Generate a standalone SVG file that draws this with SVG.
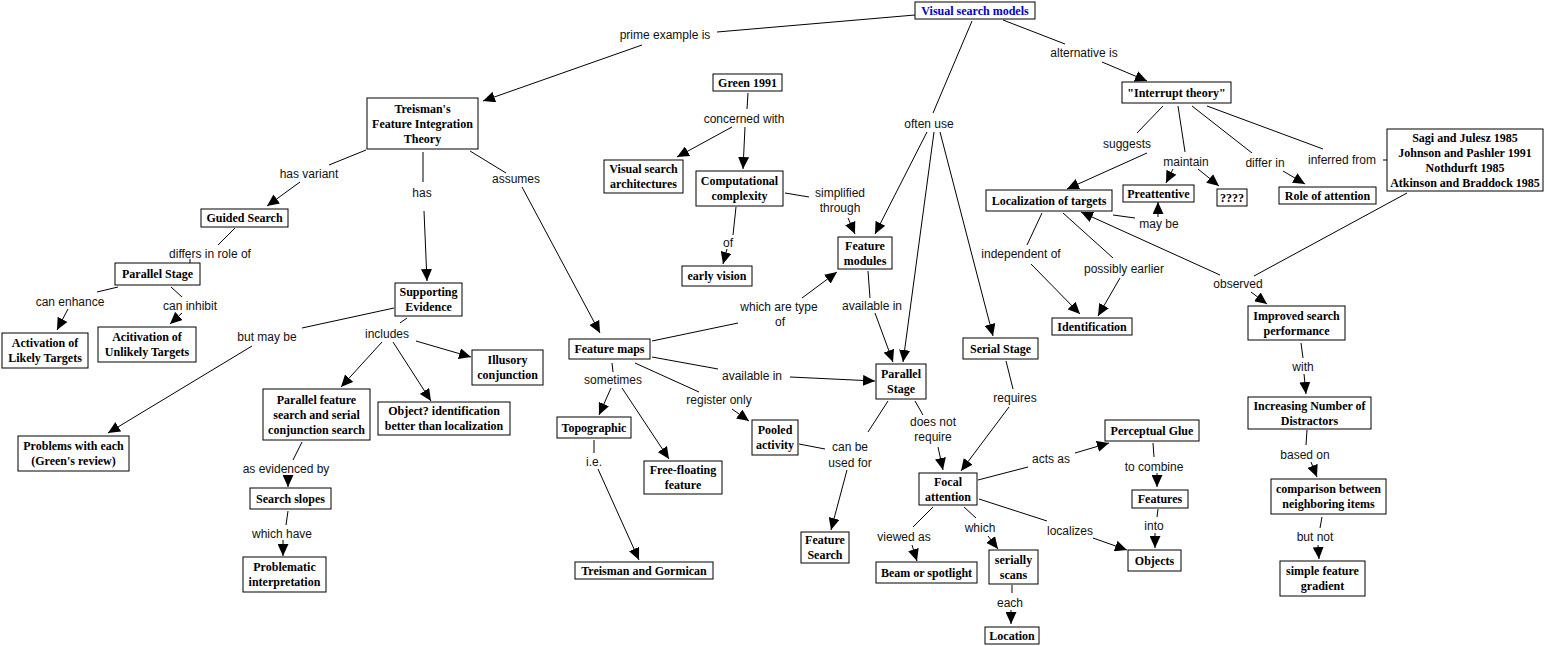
<svg xmlns="http://www.w3.org/2000/svg" width="1547" height="646" viewBox="0 0 1547 646">
<defs>
<marker id="ah" markerUnits="userSpaceOnUse" markerWidth="12" markerHeight="11" refX="12" refY="5.5" orient="auto">
<path d="M0,0 L12,5.5 L0,11 z" fill="#000"/>
</marker>
<style>
.n rect{fill:#fff;stroke:#000;stroke-width:1}
.n text{font-family:"Liberation Serif","Times New Roman",serif;font-weight:bold;font-size:12px;text-anchor:middle;fill:#000}
.l text{font-family:"Liberation Sans",Arial,sans-serif;font-size:12px;text-anchor:middle;fill:#111}
.c line{stroke:#000;stroke-width:1}
.c line.a{marker-end:url(#ah)}
</style>
</defs>
<rect width="1547" height="646" fill="#fff"/>
<g class="c" id="connectors">
<line x1="915" y1="15" x2="717" y2="32"/>
<line class="a" x1="642" y1="45" x2="483" y2="101"/>
<line x1="972" y1="21" x2="933" y2="113"/>
<line class="a" x1="927" y1="132" x2="875" y2="234"/>
<line class="a" x1="934" y1="132" x2="903" y2="362"/>
<line class="a" x1="940" y1="132" x2="993" y2="336"/>
<line x1="1003" y1="20" x2="1065" y2="44"/>
<line class="a" x1="1102" y1="62" x2="1147" y2="81"/>
<line x1="366" y1="150" x2="329" y2="165"/>
<line class="a" x1="300" y1="182" x2="267" y2="206"/>
<line x1="423" y1="152" x2="423" y2="182"/>
<line class="a" x1="424" y1="211" x2="427" y2="281"/>
<line x1="470" y1="151" x2="506" y2="173"/>
<line class="a" x1="522" y1="187" x2="600" y2="333"/>
<line x1="748" y1="93" x2="747" y2="109"/>
<line class="a" x1="732" y1="127" x2="677" y2="157"/>
<line class="a" x1="745" y1="127" x2="743" y2="169"/>
<line x1="785" y1="193" x2="809" y2="197"/>
<line class="a" x1="848" y1="218" x2="855" y2="234"/>
<line x1="736" y1="207" x2="733" y2="235"/>
<line class="a" x1="727" y1="249" x2="723" y2="264"/>
<line x1="868" y1="271" x2="870" y2="298"/>
<line class="a" x1="875" y1="313" x2="893" y2="362"/>
<line x1="652" y1="341" x2="738" y2="323"/>
<line class="a" x1="802" y1="298" x2="837" y2="272"/>
<line x1="652" y1="357" x2="718" y2="369"/>
<line class="a" x1="790" y1="377" x2="875" y2="381"/>
<line x1="635" y1="363" x2="699" y2="392"/>
<line class="a" x1="732" y1="409" x2="749" y2="421"/>
<line x1="612" y1="363" x2="613" y2="372"/>
<line class="a" x1="611" y1="388" x2="599" y2="415"/>
<line class="a" x1="622" y1="388" x2="669" y2="459"/>
<line x1="594" y1="440" x2="594" y2="453"/>
<line class="a" x1="598" y1="469" x2="639" y2="560"/>
<line x1="799" y1="444" x2="825" y2="449"/>
<line x1="888" y1="401" x2="868" y2="432"/>
<line class="a" x1="847" y1="470" x2="831" y2="530"/>
<line x1="915" y1="401" x2="923" y2="415"/>
<line class="a" x1="938" y1="447" x2="943" y2="470"/>
<line x1="1006" y1="361" x2="1013" y2="389"/>
<line class="a" x1="1009" y1="407" x2="961" y2="471"/>
<line x1="978" y1="480" x2="1028" y2="467"/>
<line class="a" x1="1075" y1="453" x2="1109" y2="443"/>
<line x1="933" y1="507" x2="913" y2="527"/>
<line class="a" x1="912" y1="545" x2="917" y2="561"/>
<line x1="964" y1="507" x2="976" y2="518"/>
<line class="a" x1="988" y1="536" x2="998" y2="549"/>
<line x1="979" y1="499" x2="1047" y2="521"/>
<line class="a" x1="1093" y1="538" x2="1127" y2="550"/>
<line x1="1012" y1="585" x2="1012" y2="593"/>
<line class="a" x1="1011" y1="610" x2="1011" y2="624"/>
<line x1="1153" y1="443" x2="1154" y2="457"/>
<line class="a" x1="1157" y1="473" x2="1157" y2="487"/>
<line x1="1158" y1="509" x2="1157" y2="517"/>
<line class="a" x1="1155" y1="533" x2="1155" y2="548"/>
<line x1="1163" y1="106" x2="1137" y2="133"/>
<line class="a" x1="1147" y1="153" x2="1067" y2="189"/>
<line x1="1178" y1="106" x2="1185" y2="152"/>
<line class="a" x1="1173" y1="169" x2="1166" y2="183"/>
<line class="a" x1="1198" y1="169" x2="1219" y2="186"/>
<line x1="1192" y1="106" x2="1252" y2="153"/>
<line class="a" x1="1283" y1="171" x2="1305" y2="184"/>
<line x1="1207" y1="106" x2="1323" y2="149"/>
<line x1="1383" y1="160" x2="1387" y2="160"/>
<line x1="1407" y1="193" x2="1254" y2="276"/>
<line class="a" x1="1251" y1="292" x2="1267" y2="304"/>
<line class="a" x1="1220" y1="275" x2="1081" y2="212"/>
<line x1="1113" y1="215" x2="1135" y2="218"/>
<line class="a" x1="1158" y1="217" x2="1158" y2="202"/>
<line x1="1042" y1="213" x2="1027" y2="245"/>
<line class="a" x1="1031" y1="264" x2="1080" y2="314"/>
<line x1="1063" y1="213" x2="1113" y2="258"/>
<line class="a" x1="1120" y1="278" x2="1098" y2="316"/>
<line x1="1301" y1="343" x2="1303" y2="358"/>
<line class="a" x1="1304" y1="374" x2="1306" y2="394"/>
<line x1="1307" y1="430" x2="1306" y2="445"/>
<line class="a" x1="1311" y1="462" x2="1317" y2="477"/>
<line x1="1322" y1="517" x2="1320" y2="528"/>
<line class="a" x1="1318" y1="545" x2="1319" y2="559"/>
<line x1="235" y1="228" x2="218" y2="245"/>
<line x1="190" y1="259" x2="190" y2="263"/>
<line x1="118" y1="287" x2="97" y2="292"/>
<line class="a" x1="68" y1="309" x2="57" y2="330"/>
<line x1="171" y1="287" x2="182" y2="297"/>
<line class="a" x1="182" y1="313" x2="170" y2="324"/>
<line x1="394" y1="308" x2="302" y2="328"/>
<line class="a" x1="252" y1="346" x2="108" y2="433"/>
<line x1="407" y1="318" x2="400" y2="323"/>
<line class="a" x1="382" y1="342" x2="341" y2="387"/>
<line class="a" x1="393" y1="342" x2="431" y2="401"/>
<line class="a" x1="416" y1="341" x2="471" y2="357"/>
<line x1="302" y1="442" x2="293" y2="460"/>
<line class="a" x1="288" y1="477" x2="288" y2="487"/>
<line x1="288" y1="511" x2="286" y2="525"/>
<line class="a" x1="283" y1="540" x2="283" y2="556"/>
</g>
<g class="l" id="linklabels">
<text x="665" y="39">prime example is</text>
<text x="1084" y="57">alternative is</text>
<text x="929" y="128">often use</text>
<text x="309" y="178">has variant</text>
<text x="422" y="197">has</text>
<text x="516" y="183">assumes</text>
<text x="744" y="123">concerned with</text>
<text x="840" y="197">simplified</text>
<text x="840" y="212">through</text>
<text x="728" y="247">of</text>
<text x="1127" y="148">suggests</text>
<text x="1186" y="166">maintain</text>
<text x="1265" y="167">differ in</text>
<text x="1342" y="164">inferred from</text>
<text x="1159" y="228">may be</text>
<text x="1021" y="258">independent of</text>
<text x="1124" y="273">possibly earlier</text>
<text x="1238" y="288">observed</text>
<text x="1303" y="371">with</text>
<text x="1305" y="459">based on</text>
<text x="1315" y="541">but not</text>
<text x="210" y="258">differs in role of</text>
<text x="70" y="306">can enhance</text>
<text x="190" y="310">can inhibit</text>
<text x="267" y="341">but may be</text>
<text x="387" y="338">includes</text>
<text x="286" y="473">as evidenced by</text>
<text x="282" y="538">which have</text>
<text x="779" y="311">which are type</text>
<text x="780" y="326">of</text>
<text x="752" y="380">available in</text>
<text x="719" y="404">register only</text>
<text x="613" y="384">sometimes</text>
<text x="594" y="466">i.e.</text>
<text x="872" y="310">available in</text>
<text x="850" y="451">can be</text>
<text x="850" y="467">used for</text>
<text x="933" y="426">does not</text>
<text x="933" y="441">require</text>
<text x="1015" y="402">requires</text>
<text x="1051" y="463">acts as</text>
<text x="1154" y="471">to combine</text>
<text x="1154" y="530">into</text>
<text x="904" y="541">viewed as</text>
<text x="980" y="532">which</text>
<text x="1010" y="607">each</text>
<text x="1070" y="535">localizes</text>
</g>
<g class="n" id="n-vsm"><rect x="915" y="2" width="120" height="17"/><text x="975" y="14.5" style="fill:#0000cc">Visual search models</text></g>
<g class="n" id="n-treisman"><rect x="367" y="98" width="111" height="51"/><text x="422.5" y="112.5">Treisman's</text><text x="422.5" y="127.5">Feature Integration</text><text x="422.5" y="142.5">Theory</text></g>
<g class="n" id="n-green"><rect x="713" y="74" width="69" height="17"/><text x="747.5" y="86.5">Green 1991</text></g>
<g class="n" id="n-vsa"><rect x="604" y="160" width="79" height="33"/><text x="643.5" y="173">Visual search</text><text x="643.5" y="188">architectures</text></g>
<g class="n" id="n-comp"><rect x="696" y="171" width="87" height="35"/><text x="739.5" y="185">Computational</text><text x="739.5" y="200">complexity</text></g>
<g class="n" id="n-guided"><rect x="201" y="209" width="87" height="18"/><text x="244.5" y="222">Guided Search</text></g>
<g class="n" id="n-pstage1"><rect x="115" y="263" width="85" height="22"/><text x="157.5" y="278">Parallel Stage</text></g>
<g class="n" id="n-actlikely"><rect x="2" y="333" width="86" height="35"/><text x="45" y="347">Activation of</text><text x="45" y="362">Likely Targets</text></g>
<g class="n" id="n-actunlikely"><rect x="98" y="327" width="98" height="35"/><text x="147" y="341">Acitivation of</text><text x="147" y="356">Unlikely Targets</text></g>
<g class="n" id="n-support"><rect x="395" y="283" width="67" height="33"/><text x="428.5" y="296">Supporting</text><text x="428.5" y="311">Evidence</text></g>
<g class="n" id="n-problems"><rect x="18" y="436" width="111" height="35"/><text x="73.5" y="450">Problems with each</text><text x="73.5" y="465">(Green's review)</text></g>
<g class="n" id="n-parfeat"><rect x="263" y="389" width="107" height="51"/><text x="316.5" y="403.5">Parallel feature</text><text x="316.5" y="418.5">search and serial</text><text x="316.5" y="433.5">conjunction search</text></g>
<g class="n" id="n-objid"><rect x="378" y="402" width="132" height="33"/><text x="444" y="415">Object? identification</text><text x="444" y="430">better than localization</text></g>
<g class="n" id="n-illusory"><rect x="472" y="350" width="71" height="35"/><text x="507.5" y="364">Illusory</text><text x="507.5" y="379">conjunction</text></g>
<g class="n" id="n-slopes"><rect x="250" y="488" width="81" height="21"/><text x="290.5" y="502.5">Search slopes</text></g>
<g class="n" id="n-problematic"><rect x="243" y="557" width="83" height="35"/><text x="284.5" y="571">Problematic</text><text x="284.5" y="586">interpretation</text></g>
<g class="n" id="n-fmaps"><rect x="569" y="339" width="81" height="20"/><text x="609.5" y="353">Feature maps</text></g>
<g class="n" id="n-early"><rect x="682" y="266" width="70" height="20"/><text x="717" y="280">early vision</text></g>
<g class="n" id="n-topo"><rect x="557" y="417" width="74" height="21"/><text x="594" y="431.5">Topographic</text></g>
<g class="n" id="n-freefloat"><rect x="644" y="461" width="78" height="33"/><text x="683" y="474">Free-floating</text><text x="683" y="489">feature</text></g>
<g class="n" id="n-tg"><rect x="575" y="562" width="138" height="17"/><text x="644" y="574.5">Treisman and Gormican</text></g>
<g class="n" id="n-pooled"><rect x="752" y="420" width="46" height="35"/><text x="775" y="434">Pooled</text><text x="775" y="449">activity</text></g>
<g class="n" id="n-fmodules"><rect x="838" y="237" width="54" height="32"/><text x="865" y="249.5">Feature</text><text x="865" y="264.5">modules</text></g>
<g class="n" id="n-pstage2"><rect x="876" y="364" width="50" height="35"/><text x="901" y="378">Parallel</text><text x="901" y="393">Stage</text></g>
<g class="n" id="n-fsearch"><rect x="801" y="532" width="48" height="31"/><text x="825" y="544">Feature</text><text x="825" y="559">Search</text></g>
<g class="n" id="n-serial"><rect x="963" y="338" width="75" height="21"/><text x="1000.5" y="352.5">Serial Stage</text></g>
<g class="n" id="n-focal"><rect x="919" y="473" width="58" height="32"/><text x="948" y="485.5">Focal</text><text x="948" y="500.5">attention</text></g>
<g class="n" id="n-beam"><rect x="876" y="562" width="101" height="21"/><text x="926.5" y="576.5">Beam or spotlight</text></g>
<g class="n" id="n-serially"><rect x="989" y="550" width="49" height="34"/><text x="1013.5" y="563.5">serially</text><text x="1013.5" y="578.5">scans</text></g>
<g class="n" id="n-location"><rect x="985" y="627" width="54" height="17"/><text x="1012" y="639.5">Location</text></g>
<g class="n" id="n-objects"><rect x="1128" y="550" width="53" height="21"/><text x="1154.5" y="564.5">Objects</text></g>
<g class="n" id="n-features"><rect x="1132" y="490" width="56" height="18"/><text x="1160" y="503">Features</text></g>
<g class="n" id="n-glue"><rect x="1105" y="420" width="94" height="21"/><text x="1152" y="434.5">Perceptual Glue</text></g>
<g class="n" id="n-ident"><rect x="1052" y="318" width="80" height="17"/><text x="1092" y="330.5">Identification</text></g>
<g class="n" id="n-local"><rect x="986" y="190" width="126" height="21"/><text x="1049" y="204.5">Localization of targets</text></g>
<g class="n" id="n-interrupt"><rect x="1122" y="82" width="109" height="21"/><text x="1176.5" y="96.5">"Interrupt theory"</text></g>
<g class="n" id="n-preatt"><rect x="1123" y="185" width="71" height="17"/><text x="1158.5" y="197.5">Preattentive</text></g>
<g class="n" id="n-qqqq"><rect x="1217" y="189" width="30" height="17"/><text x="1232" y="201.5">????</text></g>
<g class="n" id="n-role"><rect x="1279" y="187" width="97" height="17"/><text x="1327.5" y="199.5">Role of attention</text></g>
<g class="n" id="n-sagi"><rect x="1387" y="129" width="156" height="62"/><text x="1465" y="141.5">Sagi and Julesz 1985</text><text x="1465" y="156.5">Johnson and Pashler 1991</text><text x="1465" y="171.5">Nothdurft 1985</text><text x="1465" y="186.5">Atkinson and Braddock 1985</text></g>
<g class="n" id="n-improved"><rect x="1248" y="306" width="97" height="34"/><text x="1296.5" y="319.5">Improved search</text><text x="1296.5" y="334.5">performance</text></g>
<g class="n" id="n-increasing"><rect x="1248" y="397" width="123" height="32"/><text x="1309.5" y="409.5">Increasing Number of</text><text x="1309.5" y="424.5">Distractors</text></g>
<g class="n" id="n-comparison"><rect x="1271" y="479" width="115" height="35"/><text x="1328.5" y="493">comparison between</text><text x="1328.5" y="508">neighboring items</text></g>
<g class="n" id="n-simple"><rect x="1280" y="561" width="85" height="35"/><text x="1322.5" y="575">simple feature</text><text x="1322.5" y="590">gradient</text></g>
</svg>
